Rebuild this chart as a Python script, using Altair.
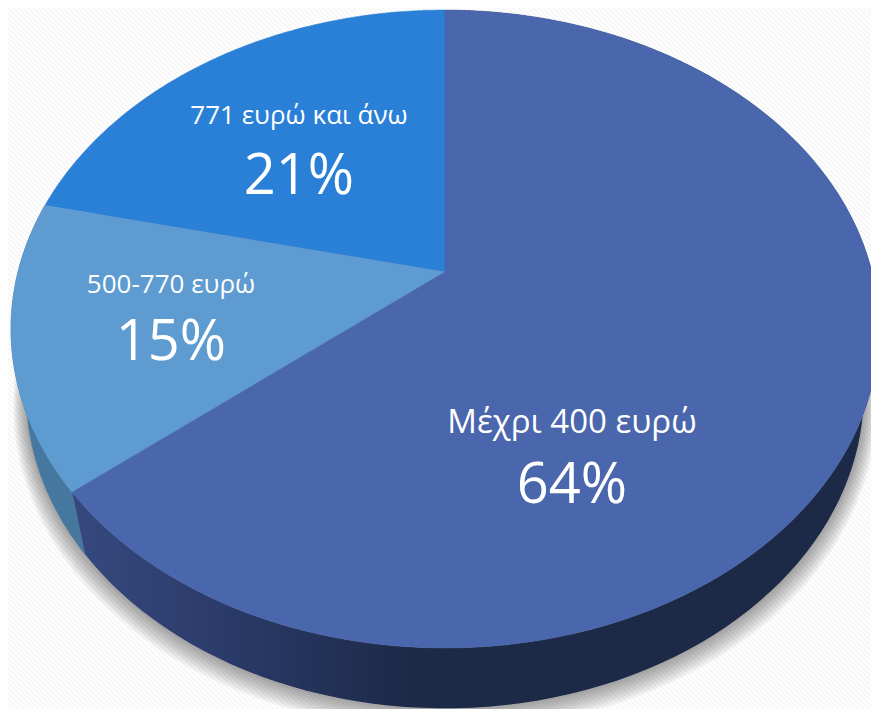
import math
import altair as alt
import pandas as pd

labels = ["Μέχρι 400 ευρώ", "500-770 ευρώ", "771 ευρώ και άνω"]
shares = [64.1, 14.5, 21.4]
share_text = ["64%", "15%", "21%"]
top_colors = ["#4A66AC", "#5E9BD1", "#2A7FD6"]

CX, K = 445.0, -0.1787
TOP = dict(a=427.0, b=308.8, y0=272.0)
BOT = dict(a=412.0, b=305.0, y0=337.0)


def pt(frac, e, grow=1.0, dy=0.0):
    t = 2 * math.pi * frac
    u, v = -math.sin(t), -math.cos(t)
    w = 1 + K * v
    return CX + grow * e["a"] * u / w, e["y0"] + dy + grow * e["b"] * v / w


def arc(f0, f1, e, n=120, **kw):
    return [pt(f0 + (f1 - f0) * i / n, e, **kw) for i in range(n + 1)]


def frame(points):
    return pd.DataFrame({"x": [p[0] for p in points], "y": [p[1] for p in points],
                         "o": list(range(len(points)))})


xs = alt.X("x:Q", scale=alt.Scale(domain=[8, 871], nice=False, zero=False), axis=None)
ys = alt.Y("y:Q", scale=alt.Scale(domain=[709, 8], nice=False, zero=False), axis=None)


def poly(points, fill, **kw):
    kw.setdefault("stroke", "transparent")
    kw.setdefault("strokeWidth", 0)
    return alt.Chart(frame(points)).mark_line(fill=fill, clip=True, **kw).encode(
        x=xs, y=ys, order="o:Q")


layers = []

# diagonal background hatch
stripe_step = 5
stripes = pd.DataFrame({"x": list(range(-700, 880, stripe_step))})
stripes["x2"] = stripes["x"] + 709
stripes["y"] = 0
stripes["y2"] = 709
layers.append(alt.Chart(stripes).mark_rule(color="#F6F6F6", strokeWidth=1.6, clip=True).encode(
    x=xs, y=ys, x2="x2:Q", y2="y2:Q"))

# soft shadow under the disc
for i in range(10):
    layers.append(poly(arc(0, 1, BOT, grow=1.0 + 0.0035 * i, dy=1.2 * i),
                       "#000000", opacity=0.045))

# side walls
f15_start = shares[2] / 100
f64_start = (shares[2] + shares[1]) / 100
layers.append(poly(arc(f15_start, f64_start, TOP) + arc(f15_start, f64_start, BOT)[::-1],
                   "#46789F", stroke="#46789F", strokeWidth=0.5))
side_grad = alt.Gradient(gradient="linear", x1=0, x2=1, y1=0, y2=0, stops=[
    alt.GradientStop(offset=0, color="#36497F"),
    alt.GradientStop(offset=0.2, color="#2A3A68"),
    alt.GradientStop(offset=0.42, color="#1C2947"),
    alt.GradientStop(offset=1, color="#1C2947"),
])
layers.append(poly(arc(f64_start, 1.0, TOP) + arc(f64_start, 1.0, BOT)[::-1], side_grad))

# top faces
apex = (CX, TOP["y0"])
starts = {2: 0.0, 1: f15_start, 0: f64_start}
for idx in [2, 1, 0]:
    s = starts[idx]
    layers.append(poly([apex] + arc(s, s + shares[idx] / 100, TOP) + [apex], top_colors[idx],
                       stroke=top_colors[idx], strokeWidth=0.5))

# labels
label_x = [572, 171, 299]
name_y = [423, 285, 116]
pct_y = [486, 343, 177]
name_size = [33, 26, 26]
pct_size = [56, 56, 56]
for i in range(3):
    d1 = pd.DataFrame({"x": [label_x[i]], "y": [name_y[i]], "t": [labels[i]]})
    d2 = pd.DataFrame({"x": [label_x[i]], "y": [pct_y[i]], "t": [share_text[i]]})
    layers.append(alt.Chart(d1).mark_text(font="Open Sans", fontSize=name_size[i], color="white",
                                          align="center", baseline="middle").encode(x=xs, y=ys, text="t:N"))
    layers.append(alt.Chart(d2).mark_text(font="Open Sans", fontSize=pct_size[i], color="white",
                                          align="center", baseline="middle").encode(x=xs, y=ys, text="t:N"))

chart = alt.layer(*layers).properties(width=863, height=701, padding=0, background="white").configure_view(stroke=None)
chart.save("out.html", embed_options={"renderer": "svg", "actions": False})
